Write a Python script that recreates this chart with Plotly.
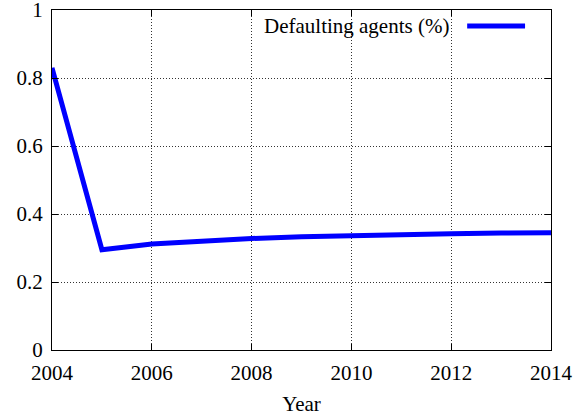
import plotly.graph_objects as go

years = [2004, 2005, 2006, 2007, 2008, 2009, 2010, 2011, 2012, 2013, 2014]
defaulting = [0.83, 0.295, 0.312, 0.321, 0.328, 0.333, 0.337, 0.340, 0.342, 0.344, 0.345]
series_name = "Defaulting agents (%)"
x_title = "Year"
x_ticks = [2004, 2006, 2008, 2010, 2012, 2014]
y_ticks = [0, 0.2, 0.4, 0.6, 0.8, 1]
y_ticklabels = ["0", "0.2", "0.4", "0.6", "0.8", "1"]

font = dict(family="Liberation Serif, Times New Roman, serif", size=21, color="black")

fig = go.Figure()
fig.add_trace(go.Scatter(x=years, y=defaulting, mode="lines",
                         line=dict(color="#0000ff", width=5), showlegend=False,
                         hoverinfo="skip"))

axis_common = dict(showline=True, linecolor="black", linewidth=1, mirror="allticks",
                   ticks="inside", ticklen=6, tickcolor="black",
                   showgrid=True, gridcolor="#333333", griddash="1px,2px", gridwidth=1,
                   zeroline=False, tickfont=font, automargin=False,
                   ticklabeloverflow="allow")

fig.update_xaxes(range=[2004, 2014], tickmode="array", tickvals=x_ticks,
                 ticktext=[str(v) for v in x_ticks], ticklabelstandoff=4,
                 title=dict(text=x_title, font=font, standoff=12), **axis_common)
fig.update_yaxes(range=[0, 1], tickmode="array", tickvals=y_ticks, ticktext=y_ticklabels,
                 ticklabelstandoff=4, **axis_common)

# gnuplot-style key: text then line sample on the right
fig.add_annotation(xref="paper", yref="paper", x=0.80, y=0.953, text=series_name,
                   showarrow=False, xanchor="right", yanchor="middle", font=font)
fig.add_shape(type="line", xref="paper", yref="paper", x0=0.832, x1=0.948, y0=0.953, y1=0.953,
              line=dict(color="#0000ff", width=5))

fig.update_layout(width=576, height=420, margin=dict(l=52, r=25, t=10, b=70),
                  plot_bgcolor="white", paper_bgcolor="white", font=font)

fig.write_html("out.html", config={"displayModeBar": False},
               post_script="document.body.style.margin='0';")
